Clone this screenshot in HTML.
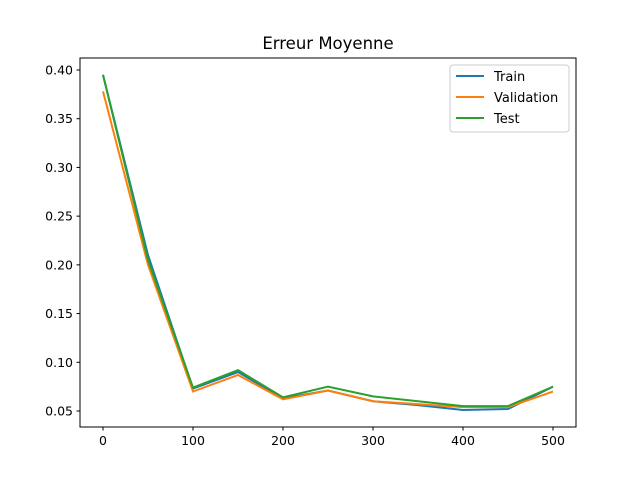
<!DOCTYPE html>
<html><head><meta charset="utf-8"><style>body{margin:0;background:#fff}svg{display:block;font-family:"DejaVu Sans","Liberation Sans",sans-serif}</style></head>
<body>
<svg id="chart" width="640" height="480">
<rect width="640" height="480" fill="#fff"/>
<text x="328" y="49" text-anchor="middle" font-size="16.5">Erreur Moyenne</text>
<g id="plot"></g>
<rect x="80" y="58" width="496" height="369" fill="none" stroke="#000" stroke-width="1"/>
<g>
<rect x="450" y="65" width="119" height="67" rx="3" fill="#fff" stroke="#ccc"/>
<line x1="456" y1="76" x2="484" y2="76" stroke="#1f77b4" stroke-width="2"/><text x="494" y="81" font-size="13">Train</text>
<line x1="456" y1="97" x2="484" y2="97" stroke="#ff7f0e" stroke-width="2"/><text x="494" y="102" font-size="13">Validation</text>
<line x1="456" y1="118" x2="484" y2="118" stroke="#2ca02c" stroke-width="2"/><text x="494" y="123" font-size="13">Test</text>
</g>
</svg>
<script>
const xValues=[0,50,100,150,200,250,300,350,400,450,500];
const trainValues=[0.395,0.21,0.073,0.090,0.063,0.071,0.060,0.056,0.051,0.052,0.075];
const validationValues=[0.378,0.200,0.070,0.087,0.062,0.071,0.060,0.057,0.054,0.054,0.070];
const testValues=[0.395,0.205,0.074,0.092,0.064,0.075,0.065,0.060,0.055,0.055,0.075];
const xTicks=[0,100,200,300,400,500];
const yTicks=[0.05,0.10,0.15,0.20,0.25,0.30,0.35,0.40];
const NS="http://www.w3.org/2000/svg";
function sx(v){return 103+v*0.9;}
function sy(v){return 411-(v-0.05)*974.3;}
const g=document.getElementById('plot');
function mk(t,a){const e=document.createElementNS(NS,t);for(const k in a)e.setAttribute(k,a[k]);g.appendChild(e);return e;}
xTicks.forEach(t=>{
 const l=mk('line',{x1:sx(t),x2:sx(t),y1:427,y2:430.5,stroke:'#000'});
 
 
 const tx=mk('text',{x:sx(t),y:445,'text-anchor':'middle','font-size':'12.5'});tx.textContent=t;
 
 
});
yTicks.forEach(t=>{
 const l=mk('line',{x1:76.5,x2:80,y1:sy(t),y2:sy(t),stroke:'#000'});
 
 
 const tx=mk('text',{x:73,y:sy(t)+4.5,'text-anchor':'end','font-size':'12.5'});tx.textContent=t.toFixed(2);
 
 
});
[[trainValues,'#1f77b4','train-line'],[validationValues,'#ff7f0e','validation-line'],[testValues,'#2ca02c','test-line']].forEach(([vals,c,n])=>{
 const p=mk('polyline',{points:vals.map((v,i)=>sx(xValues[i])+','+sy(v)).join(' '),fill:'none',stroke:c,'stroke-width':2});
 
 
});
</script>
</body></html>
